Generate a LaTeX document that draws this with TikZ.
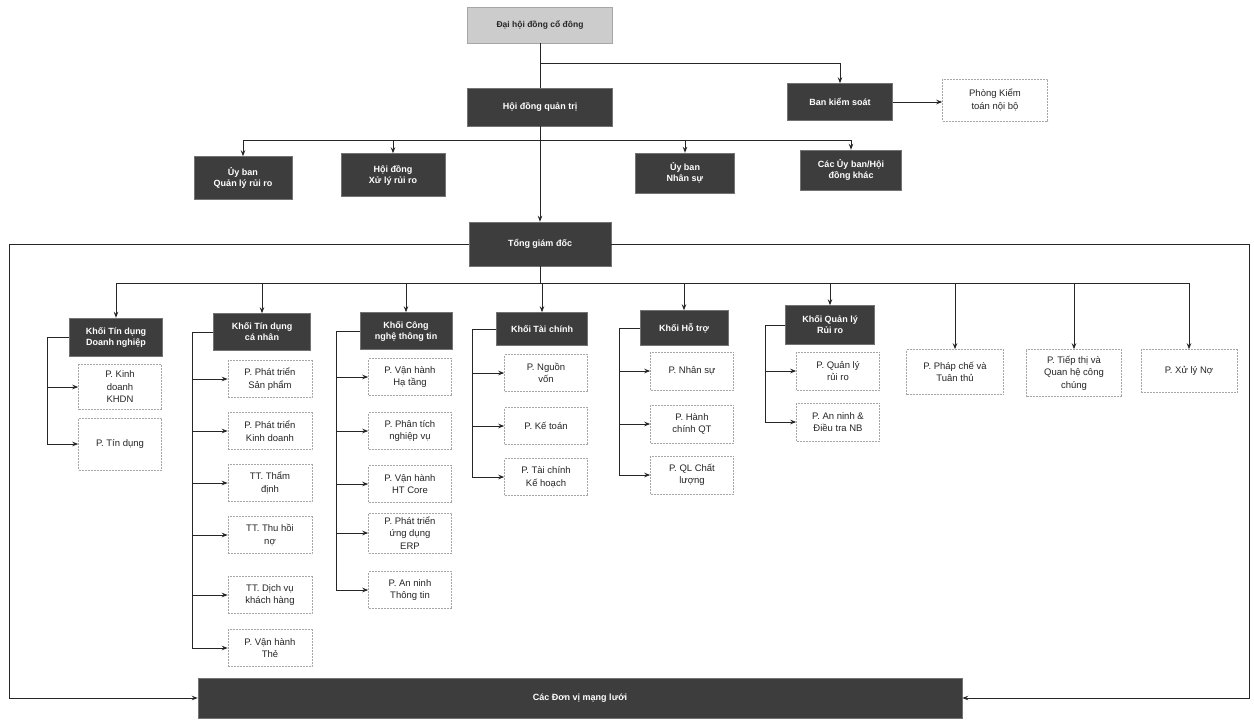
\documentclass[tikz,border=0pt]{standalone}
\usepackage{fontspec}
\setmainfont{Liberation Sans}
\usetikzlibrary{arrows.meta,calc}
\tikzset{
  darkbox/.style={draw=black!55, fill=black!76, text=white, font=\fontsize{9}{11}\selectfont\bfseries, align=center, inner sep=1pt},
  topbox/.style={draw=black!35, fill=black!20, text=black!85, font=\fontsize{8.5}{10}\selectfont\bfseries, align=center, inner sep=1pt},
  subbox/.style={draw=black!35, dash pattern=on 2pt off 1pt, fill=white, text=black!85, font=\fontsize{9.5}{12.5}\selectfont, align=center, inner sep=1pt, line width=0.5pt},
  conn/.style={draw=black!85, line width=1pt},
  arr/.style={conn, -{Stealth[length=6pt,width=4.5pt]}}
}
\begin{document}
\begin{tikzpicture}[x=1pt,y=-1pt]
\useasboundingbox (0,0) rectangle (1254,721);
% top
\node[topbox, minimum width=145pt, minimum height=36pt] (dh) at (540,25) {Đại hội đồng cổ đông};
\node[darkbox, minimum width=145pt, minimum height=38pt] (hdqt) at (540,107) {Hội đồng quản trị};
\node[darkbox, minimum width=105pt, minimum height=37pt] (bks) at (840,102) {Ban kiểm soát};
\node[subbox, minimum width=105pt, minimum height=42pt] (pkt) at (995,100) {Phòng Kiểm\\toán nội bộ};
% committees
\node[darkbox, minimum width=98pt, minimum height=43pt] (ub1) at (243,178) {Ủy ban\\Quản lý rủi ro};
\node[darkbox, minimum width=104pt, minimum height=43pt] (ub2) at (393,175) {Hội đồng\\Xử lý rủi ro};
\node[darkbox, minimum width=99pt, minimum height=40pt] (ub3) at (685,173) {Ủy ban\\Nhân sự};
\node[darkbox, minimum width=101pt, minimum height=40pt] (ub4) at (851,170) {Các Ủy ban/Hội\\đồng khác};
\node[darkbox, minimum width=142pt, minimum height=44pt] (tgd) at (540,244) {Tổng giám đốc};
% blocks
\node[darkbox, minimum width=93pt, minimum height=38pt] (k1) at (116,337) {Khối Tín dụng\\Doanh nghiệp};
\node[darkbox, minimum width=97pt, minimum height=37pt] (k2) at (262,332) {Khối Tín dụng\\cá nhân};
\node[darkbox, minimum width=92pt, minimum height=37pt] (k3) at (406,331) {Khối Công\\nghệ thông tin};
\node[darkbox, minimum width=91pt, minimum height=33pt] (k4) at (542,329) {Khối Tài chính};
\node[darkbox, minimum width=88pt, minimum height=35pt] (k5) at (684,328) {Khối Hỗ trợ};
\node[darkbox, minimum width=89pt, minimum height=39pt] (k6) at (830,325) {Khối Quản lý\\Rủi ro};
\node[subbox, minimum width=97pt, minimum height=45pt] (pc) at (955,372) {P. Pháp chế và\\Tuân thủ};
\node[subbox, minimum width=95pt, minimum height=47pt] (tt) at (1074,373) {P. Tiếp thị và\\Quan hệ công\\chúng};
\node[subbox, minimum width=96pt, minimum height=43pt] (xl) at (1189,371) {P. Xử lý Nợ};
% column 1
\node[subbox, minimum width=83pt, minimum height=45pt] (a1) at (120,387) {P. Kinh\\doanh\\KHDN};
\node[subbox, minimum width=83pt, minimum height=52pt] (a2) at (120,444) {P. Tín dụng};
% column 2
\node[subbox, minimum width=84pt, minimum height=37pt] (b1) at (270,379) {P. Phát triển\\Sản phẩm};
\node[subbox, minimum width=84pt, minimum height=37pt] (b2) at (270,431) {P. Phát triển\\Kinh doanh};
\node[subbox, minimum width=84pt, minimum height=37pt] (b3) at (270,483) {TT. Thẩm\\định};
\node[subbox, minimum width=84pt, minimum height=37pt] (b4) at (270,535) {TT. Thu hồi\\nợ};
\node[subbox, minimum width=84pt, minimum height=37pt] (b5) at (270,595) {TT. Dịch vụ\\khách hàng};
\node[subbox, minimum width=84pt, minimum height=37pt] (b6) at (270,648) {P. Vận hành\\Thẻ};
% column 3
\node[subbox, minimum width=83pt, minimum height=37pt] (c1) at (410,377) {P. Vận hành\\Hạ tầng};
\node[subbox, minimum width=83pt, minimum height=37pt] (c2) at (410,431) {P. Phân tích\\nghiệp vụ};
\node[subbox, minimum width=83pt, minimum height=37pt] (c3) at (410,484) {P. Vận hành\\HT Core};
\node[subbox, minimum width=83pt, minimum height=40pt] (c4) at (410,533) {P. Phát triển\\ứng dụng\\ERP};
\node[subbox, minimum width=83pt, minimum height=37pt] (c5) at (410,590) {P. An ninh\\Thông tin};
% column 4
\node[subbox, minimum width=83pt, minimum height=37pt] (d1) at (546,373) {P. Nguồn\\vốn};
\node[subbox, minimum width=83pt, minimum height=37pt] (d2) at (546,426) {P. Kế toán};
\node[subbox, minimum width=83pt, minimum height=37pt] (d3) at (546,477) {P. Tài chính\\Kế hoạch};
% column 5
\node[subbox, minimum width=83pt, minimum height=38pt] (e1) at (692,371) {P. Nhân sự};
\node[subbox, minimum width=83pt, minimum height=38pt] (e2) at (692,424) {P. Hành\\chính QT};
\node[subbox, minimum width=83pt, minimum height=38pt] (e3) at (692,475) {P. QL Chất\\lượng};
% column 6
\node[subbox, minimum width=83pt, minimum height=38pt] (f1) at (838,371) {P. Quản lý\\rủi ro};
\node[subbox, minimum width=83pt, minimum height=38pt] (f2) at (838,422) {P. An ninh \&\\Điều tra NB};
% bottom bar
\node[darkbox, minimum width=764pt, minimum height=40pt] (bar) at (580,698) {Các Đơn vị mạng lưới};
% junction coordinates
\coordinate (j1) at (540,63);
\coordinate (j2) at (540,140);
\coordinate (j3) at (540,283);
\coordinate (lx) at (9,0);
\coordinate (rx) at (1249,0);
\coordinate (x1) at (47,0);
\coordinate (x2) at (192,0);
\coordinate (x3) at (336,0);
\coordinate (x4) at (472,0);
\coordinate (x5) at (619,0);
\coordinate (x6) at (765,0);
% top connectors
\draw[conn] (dh.south) -- (hdqt.north);
\draw[arr] (j1) -| (bks.north);
\draw[arr] (bks.east) -- (bks.east -| pkt.west);
\draw[arr] (hdqt.south) -- (tgd.north);
\draw[conn] (ub1.north |- j2) -- (ub4.north |- j2);
\foreach \n in {ub1,ub2,ub3,ub4} \draw[arr] (\n.north |- j2) -- (\n.north);
% loop to network units
\draw[arr] (tgd.west) -- (tgd.west -| lx) |- (bar.west);
\draw[arr] (tgd.east) -- (tgd.east -| rx) |- (bar.east);
% blocks
\draw[conn] (tgd.south) -- (j3);
\draw[conn] (k1.north |- j3) -- (xl.north |- j3);
\foreach \n in {k1,k2,k3,k4,k5,k6,pc,tt,xl} \draw[arr] (\n.north |- j3) -- (\n.north);
% sub-branches
\foreach \n in {a1,a2} \draw[arr] (k1.west) -- (k1.west -| x1) |- (\n.west);
\foreach \n in {b1,b2,b3,b4,b5,b6} \draw[arr] (k2.west) -- (k2.west -| x2) |- (\n.west);
\foreach \n in {c1,c2,c3,c4,c5} \draw[arr] (k3.west) -- (k3.west -| x3) |- (\n.west);
\foreach \n in {d1,d2,d3} \draw[arr] (k4.west) -- (k4.west -| x4) |- (\n.west);
\foreach \n in {e1,e2,e3} \draw[arr] (k5.west) -- (k5.west -| x5) |- (\n.west);
\foreach \n in {f1,f2} \draw[arr] (k6.west) -- (k6.west -| x6) |- (\n.west);
\end{tikzpicture}
\end{document}
